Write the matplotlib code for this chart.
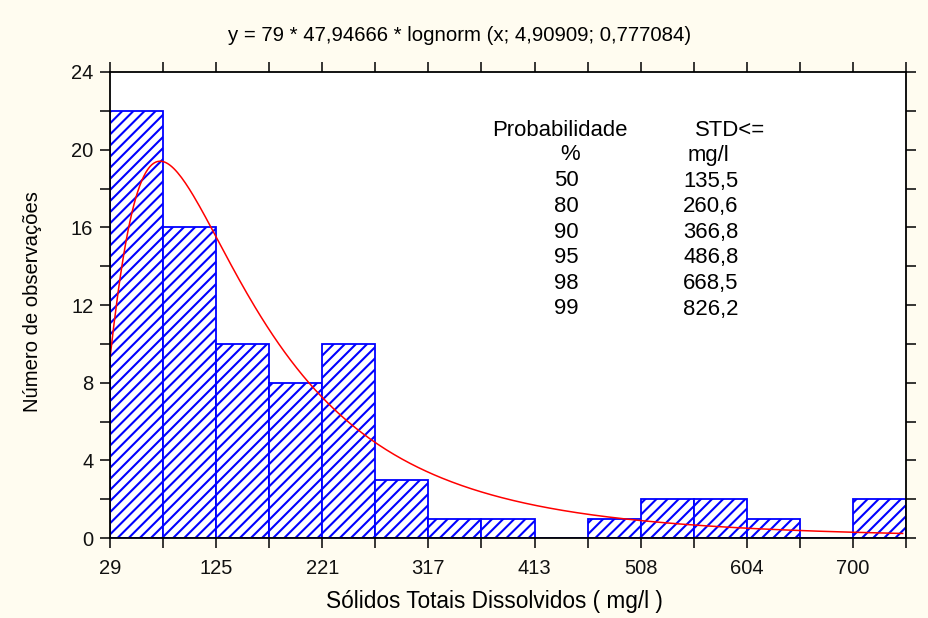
import numpy as np
import matplotlib
matplotlib.use("Agg")
import matplotlib.pyplot as plt

# histogram data
bin_start = 28.8
bin_width = 47.94666
counts = [22, 16, 10, 8, 10, 3, 1, 1, 0, 1, 2, 2, 1, 0, 2]
n_total = 79

# lognormal fit from the title
mu = 4.90909
sigma = 0.777084

# probability table
prob_pct = ["50", "80", "90", "95", "98", "99"]
std_vals = ["135,5", "260,6", "366,8", "486,8", "668,5", "826,2"]

xtick_labels = ["29", "125", "221", "317", "413", "508", "604", "700"]

plt.rcParams['font.family'] = ['Liberation Sans', 'DejaVu Sans']
plt.rcParams['hatch.color'] = 'blue'
plt.rcParams['hatch.linewidth'] = 1.5

bg = '#fffcf0'
fig = plt.figure(figsize=(9.29, 6.18), dpi=100, facecolor=bg)
ax = fig.add_axes([0.1184, 0.1294, 0.8568, 0.7541])
ax.set_facecolor('white')

edges = bin_start + bin_width * np.arange(len(counts) + 1)
ax.bar(edges[:-1], counts, width=bin_width, align='edge', facecolor='white',
       edgecolor='blue', linewidth=1.3, hatch='///', zorder=2)

# fitted curve
xs = np.linspace(edges[0], edges[-1] - 3, 400)
pdf = np.exp(-(np.log(xs) - mu) ** 2 / (2 * sigma ** 2)) / (xs * sigma * np.sqrt(2 * np.pi))
ax.plot(xs, n_total * bin_width * pdf, color='red', linewidth=1.1, zorder=3)

ax.set_xlim(edges[0], edges[-1])
ax.set_ylim(0, 24)

ax.set_xticks(edges[::2])
ax.set_xticklabels(xtick_labels)
ax.set_xticks(edges[1::2], minor=True)
ax.set_yticks(np.arange(0, 25, 4))
ax.set_yticks(np.arange(2, 24, 4), minor=True)

ax.tick_params(which='both', direction='out', length=7, width=1.1, color='black',
               top=True, right=True, labelsize=14.5, labelcolor='#111111')
ax.tick_params(axis='x', pad=8)
ax.tick_params(axis='y', pad=5)
for s in ax.spines.values():
    s.set_linewidth(1.3)
    s.set_zorder(4)

fig.text(0.495, 0.942, "y = 79 * 47,94666 * lognorm (x; 4,90909; 0,777084)",
         ha='center', va='center', fontsize=14.7)
fig.text(0.532, 0.026, "Sólidos Totais Dissolvidos ( mg/l )", ha='center', va='center',
         fontsize=16.3)
fig.text(0.035, 1 - 302 / 618, "Número de observações", ha='center', va='center',
         rotation=90, fontsize=14.6)

# table
fs = 15.9
fig.text(560 / 929, 1 - 130 / 618, "Probabilidade", ha='center', va='center', fontsize=fs)
fig.text(730 / 929, 1 - 130 / 618, "STD<=", ha='center', va='center', fontsize=fs)
fig.text(570 / 929, 1 - 155 / 618, "%", ha='center', va='center', fontsize=fs)
fig.text(708 / 929, 1 - 155 / 618, "mg/l", ha='center', va='center', fontsize=fs)
for i, (p, v) in enumerate(zip(prob_pct, std_vals)):
    y = 1 - (181 + i * 25.6) / 618
    fig.text(566 / 929, y, p, ha='center', va='center', fontsize=fs)
    fig.text(711 / 929, y, v, ha='center', va='center', fontsize=fs)

fig.savefig("out.png", dpi=100, facecolor=bg)
